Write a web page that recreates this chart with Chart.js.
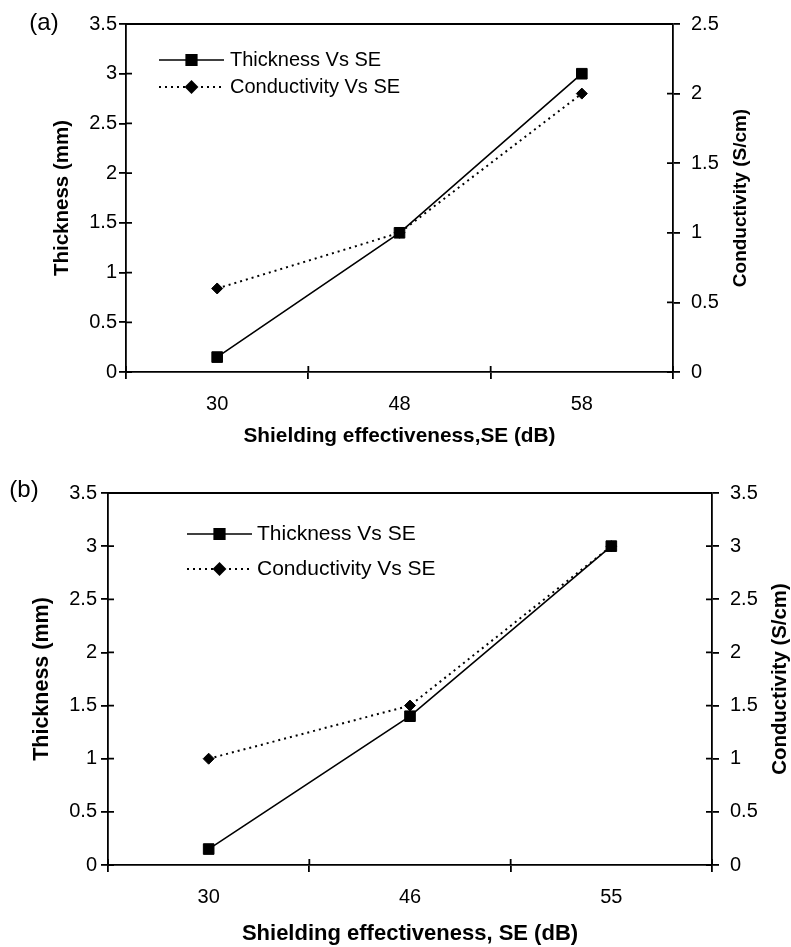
<!DOCTYPE html>
<html><head><meta charset="utf-8">
<script src="https://cdn.jsdelivr.net/npm/chart.js@4"></script>
<style>
html,body{margin:0;padding:0;background:#fff;}
#wrap{position:relative;width:791px;height:947px;background:#fff;}
canvas{position:absolute;left:0;display:block;}
</style></head><body>
<div id="wrap">
<canvas id="cA" width="791" height="470" style="top:0px"></canvas>
<canvas id="cB" width="791" height="477" style="top:470px"></canvas>
</div>
<script>
// ---------- data ----------
const seA = ['30', '48', '58'];
const thicknessA = [0.15, 1.4, 3.0];
const conductivityA = [0.6, 1.0, 2.0];

const seB = ['30', '46', '55'];
const thicknessB = [0.15, 1.4, 3.0];
const conductivityB = [1.0, 1.5, 3.0];

const thicknessTicks = ['0', '0.5', '1', '1.5', '2', '2.5', '3', '3.5'];
const conductivityTicksA = ['0', '0.5', '1', '1.5', '2', '2.5'];
const conductivityTicksB = ['0', '0.5', '1', '1.5', '2', '2.5', '3', '3.5'];

const seriesLabels = ['Thickness Vs SE', 'Conductivity Vs SE'];
// ---------------------------

const FONT = "'Liberation Sans', Arial, Helvetica, sans-serif";
Chart.defaults.color = '#000';
Chart.defaults.font.family = FONT;
const AXW = 1.8;

const decor = {
  id: 'decor',
  beforeDatasetsDraw(chart, args, o) {
    const ctx = chart.ctx, ca = chart.chartArea;
    ctx.save();
    ctx.strokeStyle = '#000';
    ctx.lineWidth = AXW;
    ctx.beginPath();
    ctx.moveTo(ca.left, ca.top); ctx.lineTo(ca.right, ca.top);
    const L = o.inner;
    const x = chart.scales.x;
    for (let i = 0; i <= x.ticks.length; i++) {
      const px = x.getPixelForValue(i - 0.5);
      ctx.moveTo(px, ca.bottom); ctx.lineTo(px, ca.bottom - L);
    }
    const yl = chart.scales.y;
    yl.ticks.forEach((t, i) => { const py = yl.getPixelForTick(i); ctx.moveTo(ca.left, py); ctx.lineTo(ca.left + L, py); });
    const yr = chart.scales.y1;
    yr.ticks.forEach((t, i) => { const py = yr.getPixelForTick(i); ctx.moveTo(ca.right, py); ctx.lineTo(ca.right - L, py); });
    ctx.stroke();
    ctx.restore();
  },
  afterDraw(chart, args, o) {
    const ctx = chart.ctx, ca = chart.chartArea;
    ctx.save();
    // right axis title, reading bottom-to-top
    const yr = chart.scales.y1;
    ctx.translate(o.rightTitleX, (ca.top + ca.bottom) / 2);
    ctx.rotate(-Math.PI / 2);
    ctx.fillStyle = '#000';
    ctx.font = 'bold ' + o.rightTitleSize + 'px ' + FONT;
    ctx.textAlign = 'center';
    ctx.textBaseline = 'middle';
    ctx.fillText(yr.options.title.text, 0, 0);
    ctx.restore();

    // legend
    const lg = o.legend;
    chart.data.datasets.forEach((ds, i) => {
      const y = ca.top + lg.dy0 + i * lg.dy;
      const x0 = ca.left + lg.dx;
      ctx.save();
      ctx.strokeStyle = ds.borderColor;
      ctx.lineWidth = ds.borderWidth;
      ctx.setLineDash(ds.borderDash || []);
      ctx.beginPath(); ctx.moveTo(x0, y); ctx.lineTo(x0 + lg.len, y); ctx.stroke();
      ctx.setLineDash([]);
      ctx.fillStyle = ds.pointBackgroundColor;
      ctx.strokeStyle = ds.pointBorderColor;
      Chart.helpers.drawPoint(ctx, {pointStyle: ds.pointStyle, radius: ds.pointRadius, borderWidth: 1, rotation: 0}, x0 + lg.len / 2, y);
      ctx.fillStyle = '#000';
      ctx.font = lg.size + 'px ' + FONT;
      ctx.textAlign = 'left';
      ctx.textBaseline = 'middle';
      ctx.fillText(ds.label, x0 + lg.len + lg.gap, y);
      ctx.restore();
    });

    // panel label
    ctx.save();
    ctx.fillStyle = '#000';
    ctx.font = o.panel.size + 'px ' + FONT;
    ctx.textAlign = 'center';
    ctx.textBaseline = 'middle';
    ctx.fillText(o.panel.text, o.panel.x, o.panel.y);
    ctx.restore();
  }
};

function makeChart(id, cats, thick, cond, condTicks, condMax, L) {
  return new Chart(document.getElementById(id), {
    type: 'line',
    data: {
      labels: cats,
      datasets: [
        {
          label: seriesLabels[0], data: thick, yAxisID: 'y',
          borderColor: '#000', borderWidth: 1.6, tension: 0,
          pointStyle: 'rect', pointRadius: 7.5, pointHoverRadius: 7.5,
          pointBackgroundColor: '#000', pointBorderColor: '#000', pointBorderWidth: 1
        },
        {
          label: seriesLabels[1], data: cond, yAxisID: 'y1',
          borderColor: '#000', borderWidth: 2, borderDash: [2, 4], tension: 0,
          pointStyle: 'rectRot', pointRadius: 5.5, pointHoverRadius: 5.5,
          pointBackgroundColor: '#000', pointBorderColor: '#000', pointBorderWidth: 1
        }
      ]
    },
    options: {
      responsive: false,
      animation: false,
      events: [],
      layout: {padding: {left: 0, right: 0, top: L.padTop, bottom: 0}},
      plugins: {
        legend: {display: false},
        tooltip: {enabled: false},
        decor: {
          inner: 6,
          rightTitleX: L.rightTitleX, rightTitleSize: L.rightTitleSize,
          legend: L.legend,
          panel: L.panel
        }
      },
      scales: {
        x: {
          type: 'category', position: 'bottom', offset: true,
          grid: {display: true, offset: true, drawOnChartArea: false, drawTicks: true, tickLength: 7, color: '#000', lineWidth: AXW},
          border: {display: true, color: '#000', width: AXW},
          ticks: {font: {size: L.tickSize}, padding: L.xTickPad, maxRotation: 0, autoSkip: false},
          title: {display: true, text: L.xTitle, font: {size: L.xTitleSize, weight: 'bold'}, padding: {top: 0, bottom: L.xTitlePadBottom}},
          afterFit: s => { s.height = L.xHeight; }
        },
        y: {
          type: 'linear', position: 'left', min: 0, max: 3.5,
          grid: {display: true, drawOnChartArea: false, drawTicks: true, tickLength: 7, color: '#000', lineWidth: AXW},
          border: {display: true, color: '#000', width: AXW},
          ticks: {stepSize: 0.5, font: {size: L.tickSize}, padding: L.yTickPad, callback: (v, i) => thicknessTicks[i]},
          title: {display: true, text: 'Thickness (mm)', font: {size: L.yTitleSize, weight: 'bold'}, padding: {top: L.yTitlePadTop, bottom: 0}},
          afterFit: s => { s.width = L.leftWidth; }
        },
        y1: {
          type: 'linear', position: 'right', min: 0, max: condMax,
          grid: {display: true, drawOnChartArea: false, drawTicks: true, tickLength: 7, color: '#000', lineWidth: AXW},
          border: {display: true, color: '#000', width: AXW},
          ticks: {stepSize: 0.5, font: {size: L.tickSize}, padding: L.y1TickPad, callback: (v, i) => condTicks[i]},
          title: {display: false, text: 'Conductivity (S/cm)'},
          afterFit: s => { s.width = L.rightWidth; }
        }
      }
    },
    plugins: [decor]
  });
}

makeChart('cA', seA, thicknessA, conductivityA, conductivityTicksA, 2.5, {
  padTop: 24, xHeight: 98, leftWidth: 126, rightWidth: 118,
  tickSize: 20, xTickPad: 13, yTickPad: 2, y1TickPad: 11,
  xTitle: 'Shielding effectiveness,SE (dB)', xTitleSize: 20.8, xTitlePadBottom: 21,
  yTitleSize: 20.5, yTitlePadTop: 50,
  rightTitleX: 741, rightTitleSize: 19,
  legend: {dx: 33, dy0: 36, dy: 27, len: 65, gap: 6, size: 20},
  panel: {text: '(a)', x: 44, y: 23, size: 24}
});

makeChart('cB', seB, thicknessB, conductivityB, conductivityTicksB, 3.5, {
  padTop: 23, xHeight: 82, leftWidth: 108, rightWidth: 79,
  tickSize: 20, xTickPad: 13, yTickPad: 4, y1TickPad: 11,
  xTitle: 'Shielding effectiveness, SE (dB)', xTitleSize: 22, xTitlePadBottom: 0,
  yTitleSize: 21.5, yTitlePadTop: 29,
  rightTitleX: 780, rightTitleSize: 20.4,
  legend: {dx: 79, dy0: 41, dy: 35, len: 65, gap: 5, size: 21},
  panel: {text: '(b)', x: 24, y: 20, size: 24}
});
</script>
</body></html>
